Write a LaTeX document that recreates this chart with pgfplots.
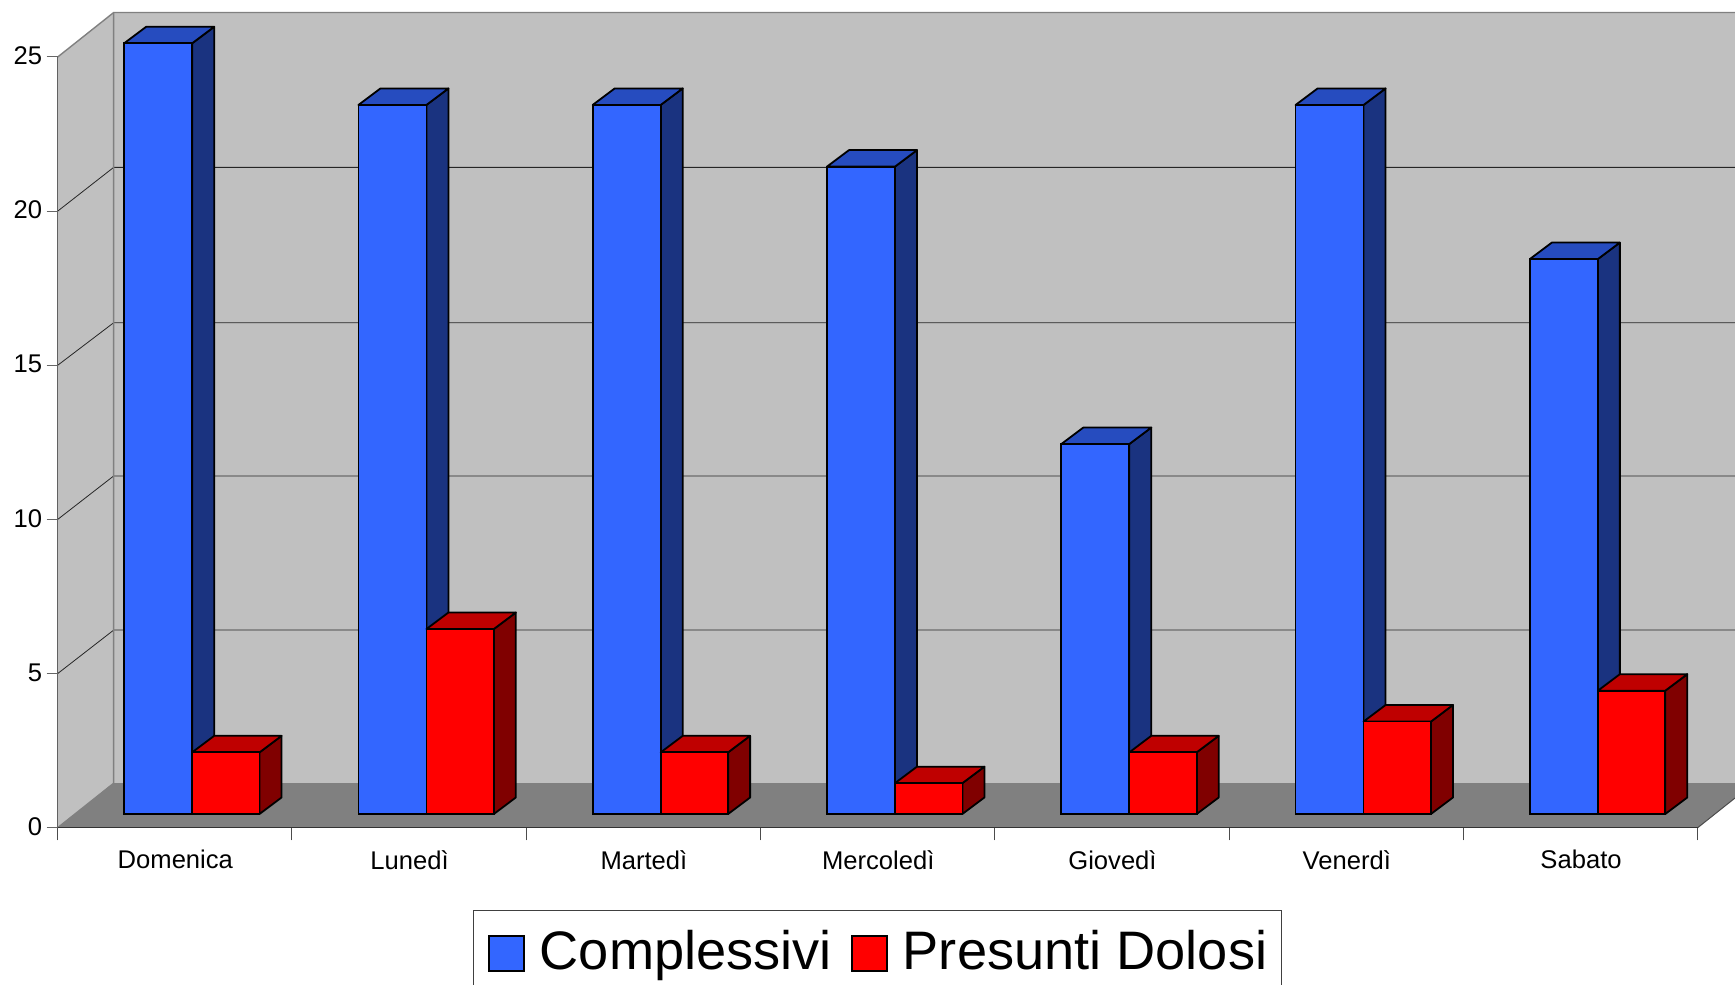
\documentclass[border=0pt]{standalone}
\usepackage{fontspec}
\setmainfont{Liberation Sans}
\usepackage{pgfplots}
\pgfplotsset{compat=1.18}

\definecolor{wall}{HTML}{C0C0C0}
\definecolor{floorc}{HTML}{808080}
\definecolor{blueF}{HTML}{3366FF}
\definecolor{blueT}{HTML}{264CBF}
\definecolor{blueS}{HTML}{1A3380}
\definecolor{redF}{HTML}{FF0000}
\definecolor{redT}{HTML}{BF0000}
\definecolor{redS}{HTML}{800000}

% 1pt = 1px of the reference; one category = 234.29, one unit of y = 30.83
\newcommand{\barfaces}[5]{% left offset, right offset, category, value, colour prefix
  \pgfmathsetmacro\xl{#3+#1}
  \pgfmathsetmacro\xr{#3+#2}
  \pgfmathsetmacro\xd{\xr+0.094}
  \pgfmathsetmacro\xe{\xl+0.094}
  \pgfmathsetmacro\yb{0.444}
  \pgfmathsetmacro\yt{#4+0.444}
  \pgfmathsetmacro\ybb{0.98}
  \pgfmathsetmacro\ytt{#4+0.98}
  \addplot[forget plot, fill=#5S, draw=black, line width=1.8pt, line join=round]
    coordinates {(\xr,\yb) (\xr,\yt) (\xd,\ytt) (\xd,\ybb)} -- cycle;
  \addplot[forget plot, fill=#5T, draw=black, line width=1.8pt, line join=round]
    coordinates {(\xl,\yt) (\xr,\yt) (\xd,\ytt) (\xe,\ytt)} -- cycle;
}
\newcommand{\bluebar}[2]{\barfaces{-0.2164}{0.0738}{#1}{#2}{blue}}
\newcommand{\redbar}[2]{\barfaces{0.0738}{0.3615}{#1}{#2}{red}}
\newcommand{\gridl}[2]{%
  \addplot[forget plot, black!85, line width=0.8pt]
    coordinates {(0,#1) (0.239,#2) (7.159,#2)};
}

\begin{document}
\begin{tikzpicture}
\path[use as bounding box] (-57.7pt,-157.3pt) rectangle (1677.3pt,827.7pt);
\begin{axis}[
    scale only axis,
    width=1640pt,
    height=770.7pt,
    xmin=0, xmax=7,
    ymin=0, ymax=25,
    clip=false,
    axis on top,
    axis lines=left,
    axis line style={-},
    x axis line style={draw=black!80, line width=1.4pt},
    y axis line style={draw=black!62, line width=1.4pt},
    tick align=outside,
    major tick length=11pt,
    minor tick length=12.6pt,
    xtick={0.5,1.5,2.5,3.5,4.5,5.5,6.5},
    xticklabels={Domenica,Lunedì,Martedì,Mercoledì,Giovedì,Venerdì,Sabato},
    minor xtick={0,1,2,3,4,5,6,7},
    major x tick style={draw=none},
    minor x tick style={draw=black!70, line width=1pt},
    ytick={0,5,10,15,20,25},
    y tick style={draw=black!60, line width=1pt},
    tick label style={font=\fontsize{25.6}{25.6}\selectfont, text=black},
    xticklabel style={yshift=-8pt, xshift=0.5pt},
    yticklabel style={xshift=-1pt, yshift=1pt},
    /pgf/number format/assume math mode=true,
    legend columns=2,
    legend cell align=left,
    legend style={
        at={(0.2532,-0.1068)}, anchor=north west,
        draw=black!75, line width=1.2pt,
        font=\fontsize{54.2}{58}\selectfont,
        inner xsep=14.5pt, inner ysep=12pt,
        nodes={inner sep=0pt, anchor=base west},
        /tikz/column 2/.style={column sep=19pt},
        row sep=0pt,
    },
]
% walls and floor
\addplot[forget plot, fill=wall, draw=none]
    coordinates {(0.239,1.443) (0.239,26.443) (7.159,26.443) (7.159,1.443)} -- cycle;
\addplot[forget plot, fill=wall, draw=none]
    coordinates {(0,0) (0.239,1.443) (0.239,26.443) (0,25)} -- cycle;
\addplot[forget plot, fill=floorc, draw=none]
    coordinates {(0,0) (0.239,1.443) (7.159,1.443) (7.159,0.961) (7,0)} -- cycle;
\gridl{5}{6.41}
\gridl{10}{11.41}
\gridl{15}{16.38}
\gridl{20}{21.42}
\addplot[forget plot, draw=floorc, line width=1.4pt]
    coordinates {(0,25) (0.239,26.443) (7.159,26.443)};
\addplot[forget plot, draw=floorc, line width=1.4pt]
    coordinates {(0,0) (0.239,1.443) (0.239,26.443)};
\addplot[forget plot, draw=black!70, line width=1pt]
    coordinates {(7,0) (7.159,0.961)};

% Complessivi
\bluebar{0.5}{25}
\bluebar{1.5}{23}
\bluebar{2.5}{23}
\bluebar{3.5}{21}
\bluebar{4.5}{12}
\bluebar{5.5}{23}
\bluebar{6.5}{18}
\addplot[ybar, bar width=68pt, bar shift=-16.7pt, yshift=13.7pt,
    fill=blueF, draw=black, line width=1.8pt,
    legend image code/.code={\draw[fill=blueF, draw=black, line width=1.6pt] (0pt,-15.5pt) rectangle (35pt,19.5pt);\path[draw=none, fill=none] (0pt,-25pt) rectangle (51pt,33pt);}]
    coordinates {(0.5,25) (1.5,23) (2.5,23) (3.5,21) (4.5,12) (5.5,23) (6.5,18)};
\addlegendentry{Complessivi}

% Presunti Dolosi
\redbar{0.5}{2}
\redbar{1.5}{6}
\redbar{2.5}{2}
\redbar{3.5}{1}
\redbar{4.5}{2}
\redbar{5.5}{3}
\redbar{6.5}{4}
\addplot[ybar, bar width=67.4pt, bar shift=51pt, yshift=13.7pt,
    fill=redF, draw=black, line width=1.8pt,
    legend image code/.code={\draw[fill=redF, draw=black, line width=1.6pt] (0pt,-15.5pt) rectangle (35pt,19.5pt);\path[draw=none, fill=none] (0pt,-25pt) rectangle (51pt,33pt);}]
    coordinates {(0.5,2) (1.5,6) (2.5,2) (3.5,1) (4.5,2) (5.5,3) (6.5,4)};
\addlegendentry{Presunti Dolosi}
\end{axis}
\end{tikzpicture}
\end{document}
